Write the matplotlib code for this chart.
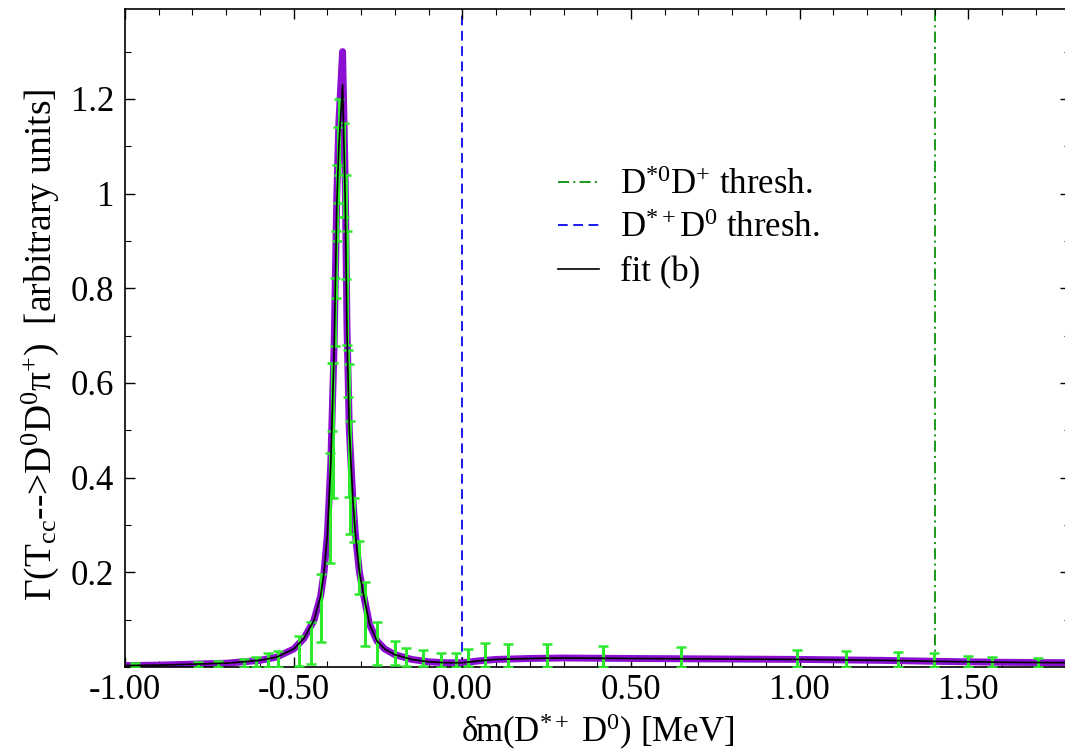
import matplotlib
matplotlib.use('Agg')
import matplotlib.pyplot as plt

plt.rcParams['font.family'] = ['Liberation Serif', 'DejaVu Serif']
plt.rcParams['mathtext.fontset'] = 'custom'
plt.rcParams['mathtext.rm'] = 'Liberation Serif'
plt.rcParams['mathtext.it'] = 'Liberation Serif:italic'
plt.rcParams['lines.scale_dashes'] = False

# fit curves (purple band and black fit (b))
fit_x = [-1.0, -0.9, -0.8, -0.7, -0.6, -0.55, -0.5, -0.47, -0.44, -0.42,
         -0.41, -0.40, -0.39, -0.38, -0.372, -0.366, -0.355, -0.347, -0.342, -0.335,
         -0.325, -0.317, -0.305, -0.292, -0.275, -0.253, -0.23, -0.20, -0.15,
         -0.10, -0.05, 0.0, 0.05, 0.10, 0.20, 0.30, 0.50, 0.75, 1.00, 1.25,
         1.40, 1.60, 1.80]
band_y = [0.003, 0.004, 0.006, 0.008, 0.014, 0.021, 0.038, 0.060, 0.098, 0.15,
          0.20, 0.28, 0.43, 0.68, 1.0, 1.15, 1.30, 1.02, 0.72, 0.50,
          0.36, 0.28, 0.20, 0.15, 0.09, 0.055, 0.038, 0.026, 0.016,
          0.011, 0.009, 0.009, 0.013, 0.016, 0.018, 0.019, 0.018, 0.017, 0.016, 0.014,
          0.012, 0.010, 0.009]
fitb_y = [0.003, 0.004, 0.006, 0.008, 0.014, 0.021, 0.038, 0.060, 0.098, 0.15,
          0.20, 0.28, 0.43, 0.67, 0.98, 1.10, 1.23, 0.98, 0.71, 0.50,
          0.36, 0.28, 0.20, 0.15, 0.09, 0.055, 0.038, 0.026, 0.016,
          0.011, 0.009, 0.009, 0.013, 0.016, 0.018, 0.019, 0.018, 0.017, 0.016, 0.014,
          0.012, 0.010, 0.009]

# data points with error bars
data_x = [-0.969, -0.785, -0.723, -0.646, -0.612, -0.577, -0.546, -0.483, -0.449,
          -0.419, -0.391, -0.386, -0.382, -0.378, -0.375, -0.372, -0.370, -0.367,
          -0.350, -0.346, -0.342, -0.339, -0.336, -0.332, -0.322, -0.305, -0.289,
          -0.253, -0.201, -0.166, -0.118, -0.063, -0.018, 0.016, 0.066, 0.135,
          0.251, 0.417, 0.649, 0.993, 1.136, 1.293, 1.399, 1.498, 1.571, 1.706]
data_y = [0.0045, 0.0055, 0.0064, 0.0088, 0.011, 0.0145, 0.017, 0.034, 0.051,
          0.125, 0.336, 0.57, 0.50, 0.75, 0.85, 0.98, 1.06, 1.12,
          1.05, 0.93, 0.80, 0.62, 0.50, 0.40, 0.31, 0.21, 0.112,
          0.05, 0.03, 0.022, 0.019, 0.015, 0.015, 0.02, 0.025, 0.025,
          0.024, 0.022, 0.021, 0.018, 0.017, 0.016, 0.014, 0.012, 0.011, 0.009]
data_err = [0.0045, 0.0055, 0.0064, 0.0088, 0.011, 0.0145, 0.017, 0.032, 0.045,
            0.072, 0.117, 0.072, 0.143, 0.072, 0.07, 0.08, 0.08, 0.08,
            0.10, 0.11, 0.12, 0.05, 0.14, 0.12, 0.046, 0.056, 0.067,
            0.046, 0.025, 0.019, 0.017, 0.0145, 0.0145, 0.0175, 0.025, 0.024,
            0.024, 0.022, 0.021, 0.018, 0.017, 0.016, 0.015, 0.012, 0.011, 0.009]

thresh_neutral = 1.40   # D*0 D+ threshold
thresh_charged = 0.0    # D*+ D0 threshold

x_ticks = [-1.0, -0.5, 0.0, 0.5, 1.0, 1.5]
x_ticklabels = ['-1.00', '-0.50', '0.00', '0.50', '1.00', '1.50']
y_ticks = [0.2, 0.4, 0.6, 0.8, 1.0, 1.2]
y_ticklabels = ['0.2', '0.4', '0.6', '0.8', '1', '1.2']

fig = plt.figure(figsize=(10.65, 7.53), dpi=100)
ax = fig.add_axes([125/1065, 86/753, 944.5/1065, 658/753])

ax.plot(fit_x, band_y, color='#8a0fd0', lw=5, solid_capstyle='round', zorder=2)
ax.errorbar(data_x, data_y, yerr=data_err, fmt='none', ecolor='#2ee82e',
            elinewidth=2.2, capsize=3.5, capthick=1.8, zorder=3)
ax.plot(fit_x, fitb_y, color='black', lw=1.2, zorder=4, label='fit (b)')

ax.axvline(thresh_neutral, color='#1a9a1a', lw=1.4, dashes=(8, 3, 1.5, 3),
           label=r'D$^{*0}$D$^{+}$ thresh.', zorder=1)
ax.axvline(thresh_charged, color='#1a1aee', lw=1.4, dashes=(7, 4),
           label=r'D$^{*+}$D$^{0}$ thresh.', zorder=1)

ax.set_xlim(-1.0, 1.8)
ax.set_ylim(0, 1.39)
ax.set_xticks(x_ticks)
ax.set_xticklabels(x_ticklabels)
ax.set_xticks([i / 10 for i in range(-10, 19)], minor=True)
ax.set_yticks(y_ticks)
ax.set_yticklabels(y_ticklabels)
ax.set_yticks([i / 10 for i in range(0, 14)], minor=True)
ax.tick_params(which='both', direction='in', top=True, right=True, labelsize=25)
ax.tick_params(which='major', length=7, width=1)
ax.tick_params(which='minor', length=4, width=0.8)
ax.tick_params(axis='x', pad=5)
ax.tick_params(axis='y', pad=8)
for s in ax.spines.values():
    s.set_linewidth(1.2)

ax.set_xlabel(r'δm(D$^{*+}$ D$^{0}$) [MeV]', fontsize=25)
ax.xaxis.set_label_coords(0.5, -0.068)
ax.set_ylabel(r'Γ(T$_{\mathrm{cc}}$-->D$^{0}$D$^{0}$π$^{+}$)  [arbitrary units]', fontsize=27)
ax.yaxis.set_label_coords(-0.068, 0.49)

handles, labels = ax.get_legend_handles_labels()
order = [1, 2, 0]
ax.legend([handles[i] for i in order], [labels[i] for i in order],
          loc='upper left', bbox_to_anchor=(0.458, 0.757), frameon=False,
          fontsize=25, handlelength=1.2, handletextpad=0.6,
          borderpad=0, borderaxespad=0, labelspacing=0.3)

fig.savefig('out.png', dpi=100)
